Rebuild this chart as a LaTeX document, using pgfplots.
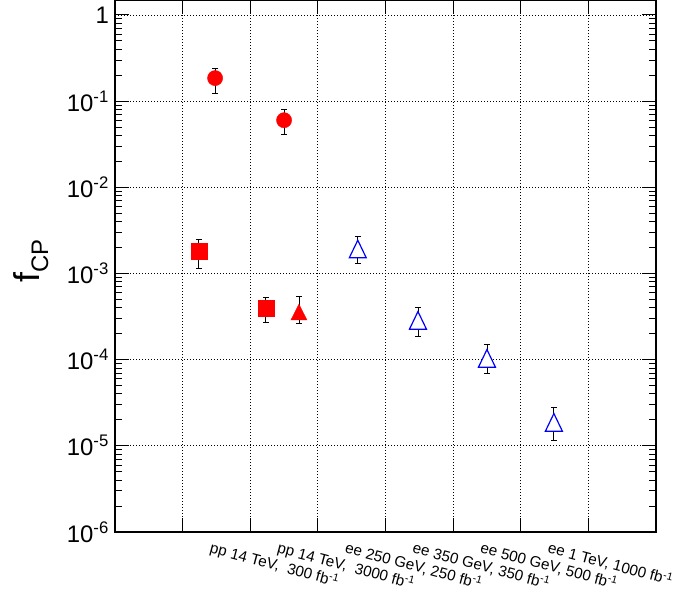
\documentclass[border=0pt]{standalone}
\usepackage{pgfplots}
\pgfplotsset{compat=1.18}
\usepackage{pgfplotstable}
\usepackage{fontspec}
\setmainfont{Liberation Sans}
\pgfplotstableread{
x y ep em
1.48 0.185 0.057 0.061
2.50 0.060 0.021 0.019
}\circles
\pgfplotstableread{
x y ep em
1.24 1.8e-3 0.68e-3 0.66e-3
2.23 4.0e-4 1.26e-4 1.31e-4
}\squares
\pgfplotstableread{
x y ep em
2.72 3.6e-4 1.75e-4 1.0e-4
}\redtri
\pgfplotstableread{
x y ep em
3.59 1.95e-3 0.75e-3 0.64e-3
4.48 2.9e-4 1.1e-4 1.05e-4
5.50 1.05e-4 0.44e-4 0.36e-4
6.49 1.9e-5 0.87e-5 0.73e-5
}\bluetri
\pgfplotsset{errb/.style={draw=none, mark=none, forget plot,
  error bars/.cd, y dir=both, y explicit,
  error bar style={black, line width=0.8bp},
  error mark options={black, rotate=90, mark size=3bp, line width=0.8bp}}}
\begin{document}
\begin{tikzpicture}
\begin{axis}[
  scale only axis,
  width=541bp, height=532bp,
  xmin=0, xmax=8,
  ymode=log, ymin=1e-6, ymax=1.49,
  axis line style={line width=1.2bp},
  xtick={1,2,3,4,5,6,7},
  xticklabels={,,,,,,},
  ytick={1e-6,1e-5,1e-4,1e-3,1e-2,1e-1,1},
  yticklabels={10\textsuperscript{-6},10\textsuperscript{-5},10\textsuperscript{-4},10\textsuperscript{-3},10\textsuperscript{-2},10\textsuperscript{-1},1},
  minor ytick={2e-6,3e-6,4e-6,5e-6,6e-6,7e-6,8e-6,9e-6,2e-5,3e-5,4e-5,5e-5,6e-5,7e-5,8e-5,9e-5,2e-4,3e-4,4e-4,5e-4,6e-4,7e-4,8e-4,9e-4,2e-3,3e-3,4e-3,5e-3,6e-3,7e-3,8e-3,9e-3,2e-2,3e-2,4e-2,5e-2,6e-2,7e-2,8e-2,9e-2,2e-1,3e-1,4e-1,5e-1,6e-1,7e-1,8e-1,9e-1},
  tick align=inside,
  major tick length=14bp,
  minor tick length=7bp,
  tick style={black, line width=0.9bp},
  xmajorgrids, ymajorgrids,
  major grid style={black, line width=0.8bp, dash pattern=on 1bp off 2bp},
  yticklabel style={font=\fontsize{24}{28}\selectfont, inner sep=2pt, xshift=-4bp},
  ylabel={f\textsubscript{\fontsize{24}{28}\selectfont CP}},
  ylabel style={font=\fontsize{36}{40}\selectfont, at={(axis description cs:-0.155,0.51)}, anchor=center},
  extra x ticks={1.5,2.5,3.5,4.5,5.5,6.5},
  extra x tick labels={pp 14 TeV{,}\ \ 300 fb\textsuperscript{-1},pp 14 TeV{,}\ \ 3000 fb\textsuperscript{-1},ee 250 GeV{,} 250 fb\textsuperscript{-1},ee 350 GeV{,} 350 fb\textsuperscript{-1},ee 500 GeV{,} 500 fb\textsuperscript{-1},ee 1 TeV{,} 1000 fb\textsuperscript{-1}},
  extra x tick style={grid=none, major tick length=0pt,
    tick label style={rotate=-15, anchor=north west, font=\fontsize{15.3}{17}\selectfont, inner sep=1pt, xshift=-3bp, yshift=-8bp}},
  clip=false,
]
\addplot[errb] table[x=x, y=y, y error plus=ep, y error minus=em] {\circles};
\addplot[errb] table[x=x, y=y, y error plus=ep, y error minus=em] {\squares};
\addplot[errb] table[x=x, y=y, y error plus=ep, y error minus=em] {\redtri};
\addplot[errb] table[x=x, y=y, y error plus=ep, y error minus=em] {\bluetri};
\addplot[only marks, mark=*, mark size=7.6bp, color=red, fill=red] table[x=x,y=y] {\circles};
\addplot[only marks, mark=square*, mark size=8bp, color=red, fill=red] table[x=x,y=y] {\squares};
\addplot[only marks, mark=triangle*, mark size=9.2bp, color=red, fill=red,
  mark options={yscale=1.15, yshift=-2.6bp}] table[x=x,y=y] {\redtri};
\addplot[only marks, mark=triangle*, mark size=9.8bp, draw=blue, fill=white,
  mark options={yscale=1.2, yshift=-2.9bp, line width=1.2bp, draw=blue, fill=white}] table[x=x,y=y] {\bluetri};
\end{axis}
\pgfresetboundingbox
\path ([xshift=-115bp]current axis.north west) rectangle ([xshift=24bp,yshift=-69bp]current axis.south east);
\end{tikzpicture}
\end{document}
